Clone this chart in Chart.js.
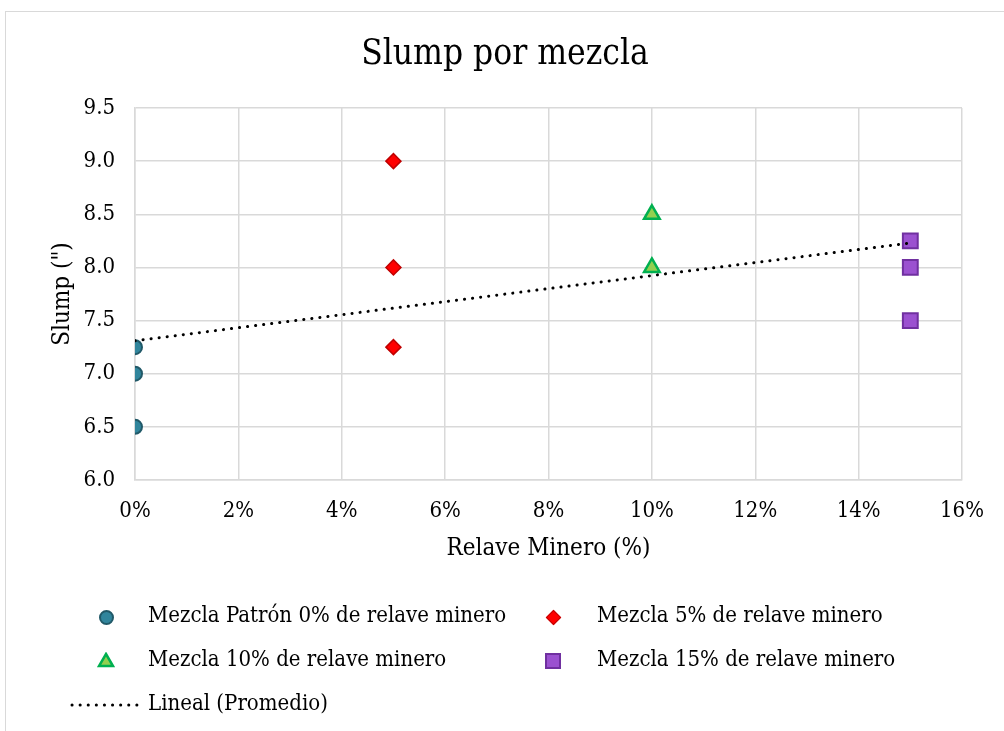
<!DOCTYPE html>
<html>
<head>
<meta charset="utf-8">
<script src="https://cdn.jsdelivr.net/npm/chart.js@4.4.1/dist/chart.umd.min.js"></script>
<style>
    body { margin: 0; background: #fff; font-family: 'DejaVu Serif Condensed', 'DejaVu Serif', serif; }
    #frame { position: absolute; left: 5px; top: 11px; width: 999px; height: 720px; border-left: 1px solid #d9d9d9; border-top: 1px solid #d9d9d9; }
    #chart { position: absolute; left: 0; top: 0; }
    .legend-row { position: absolute; font-size: 22px; color: #000; white-space: nowrap; }
    .mark { position: absolute; box-sizing: border-box; }
</style>
</head>
<body>
<div id="frame">
    <canvas id="chart" width="999" height="720"></canvas>
</div>
<div id="legend"></div>
<script>
const seriesNames = [
    'Mezcla Patrón 0% de relave minero',
    'Mezcla 5% de relave minero',
    'Mezcla 10% de relave minero',
    'Mezcla 15% de relave minero'
];
const relave = [0, 5, 10, 15];
const slump0 = [7.25, 7.0, 6.5];
const slump5 = [9.0, 8.0, 7.25];
const slump10 = [8.5, 8.0];
const slump15 = [8.25, 8.0, 7.5];
const trendX = [0, 15];
const trendY = [7.31, 8.23];
const trendName = 'Lineal (Promedio)';

const fillColors = ['#31859c', '#ff0000', '#92d050', '#9b51d0'];
const edgeColors = ['#215968', '#c00000', '#00b050', '#7030a0'];
const pointStyles = ['circle', 'rectRot', 'triangle', 'rect'];
const pointSizes = [7, 7.5, 9, 10.5];
const edgeWidths = [2, 1.5, 2.5, 2];

const fontFamily = "'DejaVu Serif Condensed', 'DejaVu Serif', serif";

const allSlump = [slump0, slump5, slump10, slump15];
const datasets = allSlump.map((vals, i) => ({
    type: 'scatter',
    label: seriesNames[i],
    data: vals.map(v => ({ x: relave[i], y: v })),
    backgroundColor: fillColors[i],
    borderColor: edgeColors[i],
    borderWidth: edgeWidths[i],
    pointStyle: pointStyles[i],
    pointRadius: pointSizes[i],
    order: 1
}));

datasets.push({
    type: 'line',
    label: trendName,
    data: trendX.map((x, i) => ({ x: x, y: trendY[i] })),
    borderColor: '#000',
    borderWidth: 3,
    borderDash: [0.1, 8],
    borderCapStyle: 'round',
    pointRadius: 0,
    fill: false,
    order: 0
});

const ctx = document.getElementById('chart').getContext('2d');
new Chart(ctx, {
    data: { datasets: datasets },
    options: {
        responsive: false,
        animation: false,
        layout: { padding: { left: 42, right: 43, top: 0, bottom: 169 } },
        plugins: {
            legend: { display: false },
            tooltip: { enabled: false },
            title: {
                display: true,
                text: 'Slump por mezcla',
                color: '#000',
                font: { family: fontFamily, size: 35, weight: 'normal' },
                padding: { top: 22, bottom: 32 }
            }
        },
        scales: {
            x: {
                type: 'linear',
                min: 0,
                max: 16,
                ticks: {
                    stepSize: 2,
                    color: '#000',
                    padding: 18,
                    font: { family: fontFamily, size: 22 },
                    callback: v => v + '%'
                },
                grid: { color: '#d9d9d9', lineWidth: 1.5, drawTicks: false },
                border: { color: '#d9d9d9', width: 1.5 },
                title: {
                    display: true,
                    text: 'Relave Minero (%)',
                    color: '#000',
                    font: { family: fontFamily, size: 24 },
                    padding: { top: 8, bottom: 0 }
                },
                afterFit: scale => { scale.height = 83; }
            },
            y: {
                min: 6,
                max: 9.5,
                ticks: {
                    stepSize: 0.5,
                    color: '#000',
                    padding: 20,
                    font: { family: fontFamily, size: 22 },
                    callback: v => v.toFixed(1)
                },
                grid: { color: '#d9d9d9', lineWidth: 1.5, drawTicks: false },
                border: { color: '#d9d9d9', width: 1.5 },
                title: {
                    display: true,
                    text: 'Slump (")',
                    color: '#000',
                    font: { family: fontFamily, size: 24 },
                    padding: { top: 0, bottom: 0 }
                },
                afterFit: scale => { scale.width = 87; }
            }
        }
    }
});

// legend in html, two columns plus the trendline row
const legend = document.getElementById('legend');
const rowTops = [617, 617, 661, 661];
const markX = [106, 553, 106, 553];
const textX = [148, 597, 148, 597];

function markerHtml(i, cx, cy) {
    const s = pointStyles[i];
    if (s === 'circle') {
        return `<div class="mark" style="left:${cx - 7.5}px;top:${cy - 7.5}px;width:15px;height:15px;border-radius:50%;background:${fillColors[i]};border:2px solid ${edgeColors[i]}"></div>`;
    }
    if (s === 'rectRot') {
        return `<div class="mark" style="left:${cx - 5.5}px;top:${cy - 5.5}px;width:11px;height:11px;transform:rotate(45deg);background:${fillColors[i]};border:1.5px solid ${edgeColors[i]}"></div>`;
    }
    if (s === 'triangle') {
        return `<svg class="mark" style="left:${cx - 9}px;top:${cy - 9}px" width="18" height="16"><polygon points="9,2 16,14 2,14" fill="${fillColors[i]}" stroke="${edgeColors[i]}" stroke-width="2.5"/></svg>`;
    }
    return `<div class="mark" style="left:${cx - 8}px;top:${cy - 8}px;width:16px;height:16px;background:${fillColors[i]};border:2px solid ${edgeColors[i]}"></div>`;
}

let html = '';
seriesNames.forEach((name, i) => {
    html += markerHtml(i, markX[i], rowTops[i]);
    html += `<div class="legend-row" style="left:${textX[i]}px;top:${rowTops[i] - 15}px">${name}</div>`;
});
html += `<svg class="mark" style="left:68px;top:699px" width="76" height="12"><line x1="4" y1="6" x2="72" y2="6" stroke="#000" stroke-width="3" stroke-linecap="round" stroke-dasharray="0.1 8"/></svg>`;
html += `<div class="legend-row" style="left:148px;top:690px">${trendName}</div>`;
legend.innerHTML = html;
</script>
</body>
</html>
